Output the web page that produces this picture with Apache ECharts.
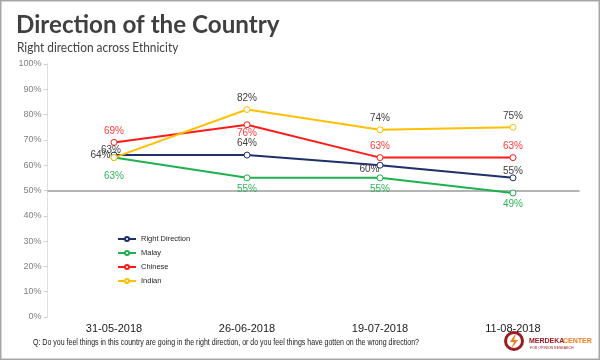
<!DOCTYPE html>
<html>
<head>
<meta charset="utf-8">
<script src="https://cdn.jsdelivr.net/npm/echarts@6/dist/echarts.min.js"></script>
<style>html,body{margin:0;padding:0;background:#fff}#c{width:600px;height:360px}</style>
</head>
<body>
<div id="c"></div>
<script>
const categories = ['31-05-2018', '26-06-2018', '19-07-2018', '11-08-2018'];
const seriesNames = ['Right Direction', 'Malay', 'Chinese', 'Indian'];
const rightDirection = [64, 64, 60, 55];
const malay = [63, 55, 55, 49];
const chinese = [69, 76, 63, 63];
const indian = [63, 82, 74, 75];
const yMin = 0, yMax = 100, yStep = 10;

const colors = ['#1f2f6b', '#1fb050', '#ff1a1a', '#ffc000'];
const labelColors = ['#404040', '#2fb35a', '#ff3b3b', '#404040'];
// label position per point
const labelPos = [
  [['left', [3, 0]], ['top', [0, 0]], ['left', [6, 4]], ['top', [0, 5]]],
  [['bottom', [0, 7]], ['bottom', [0, 0]], ['bottom', [0, 0]], ['bottom', [0, 0]]],
  [['top', [0, 0]], ['bottom', [0, -3]], ['top', [0, 0]], ['top', [0, 0]]],
  [['top', [-3, 4]], ['top', [0, 0]], ['top', [0, 0]], ['top', [0, 0]]]
];
const values = [rightDirection, malay, chinese, indian];

const chart = echarts.init(document.getElementById('c'));
const series = seriesNames.map((name, i) => ({
  name: name,
  type: 'line',
  data: values[i].map((v, j) => ({
    value: v,
    label: { position: labelPos[i][j][0], offset: labelPos[i][j][1] }
  })),
  symbol: 'circle',
  symbolSize: 6,
  itemStyle: { color: '#fff', borderColor: colors[i], borderWidth: 1 },
  lineStyle: { color: colors[i], width: 2 },
  label: {
    show: true,
    formatter: '{c}%',
    fontFamily: 'Liberation Sans',
    fontSize: 10,
    color: labelColors[i],
    distance: 3
  },
  z: 3 + i,
  markLine: i === 0 ? {
    silent: true,
    symbol: 'none',
    label: { show: false },
    lineStyle: { color: '#b4b4b4', width: 2, type: 'solid' },
    data: [{ yAxis: 50 }],
    z: 1
  } : undefined
}));

chart.setOption({
  animation: false,
  backgroundColor: '#fff',
  color: colors,
  legend: {
    orient: 'vertical',
    left: 117,
    top: 235,
    padding: 0,
    itemWidth: 18,
    itemHeight: 5,
    itemGap: 6,
    textStyle: { fontFamily: 'Liberation Sans', fontSize: 7.5, color: '#262626' },
    data: seriesNames
  },
  grid: { left: 47.5, right: 20.5, top: 64, bottom: 43 },
  xAxis: {
    type: 'category',
    data: categories,
    boundaryGap: true,
    axisLine: { show: false },
    axisTick: { show: false },
    axisLabel: { fontFamily: 'Liberation Sans', fontSize: 11, color: '#1a1a1a', margin: 6 }
  },
  yAxis: {
    type: 'value',
    min: yMin, max: yMax, interval: yStep,
    axisLine: { show: true, lineStyle: { color: '#d9d9d9', type: 'dotted', width: 1 } },
    axisTick: { show: true, length: 4, lineStyle: { color: '#d0d0d0' } },
    splitLine: { show: false },
    axisLabel: { formatter: '{value}%', fontFamily: 'Liberation Sans', fontSize: 9, color: '#808080', margin: 6 }
  },
  graphic: [
    { type: 'rect', shape: { x: 0.5, y: 0.5, width: 599, height: 359 },
      style: { fill: 'none', stroke: '#a6a6a6', lineWidth: 2 }, silent: true },
    { type: 'text', x: 16, y: 25, scaleX: 0.967,
      style: { text: 'Direction of the Country', font: 'bold 25px Lato', fill: '#404040', verticalAlign: 'middle' } },
    { type: 'text', x: 17, y: 48, scaleX: 0.915,
      style: { text: 'Right direction across Ethnicity', font: '13px Lato', fill: '#404040', verticalAlign: 'middle' } },
    { type: 'text', x: 33, y: 343, scaleX: 0.78,
      style: { text: 'Q: Do you feel things in this country are going in the right direction, or do you feel things have gotten on the wrong direction?',
        font: '9px "Liberation Sans"', fill: '#1a1a1a', verticalAlign: 'middle' } },
    { type: 'circle', shape: { cx: 514, cy: 341, r: 8.5 },
      style: { fill: '#fff', stroke: '#9b1c22', lineWidth: 3 } },
    { type: 'polygon', shape: { points: [[516, 333], [510, 342], [514, 342], [511, 349], [518, 340], [514, 340]] },
      style: { fill: '#f07d1a' } },
    { type: 'text', x: 529, y: 338,
      style: { text: 'MERDEKA', font: 'bold 7px "Liberation Sans"', fill: '#9b1c22' } },
    { type: 'text', x: 563, y: 338,
      style: { text: 'CENTER', font: 'bold 7px "Liberation Sans"', fill: '#f07d1a' } },
    { type: 'text', x: 530, y: 346,
      style: { text: 'FOR OPINION RESEARCH', font: '3.5px "Liberation Sans"', fill: '#9b1c22' } }
  ],
  series: series
});
</script>
</body>
</html>
